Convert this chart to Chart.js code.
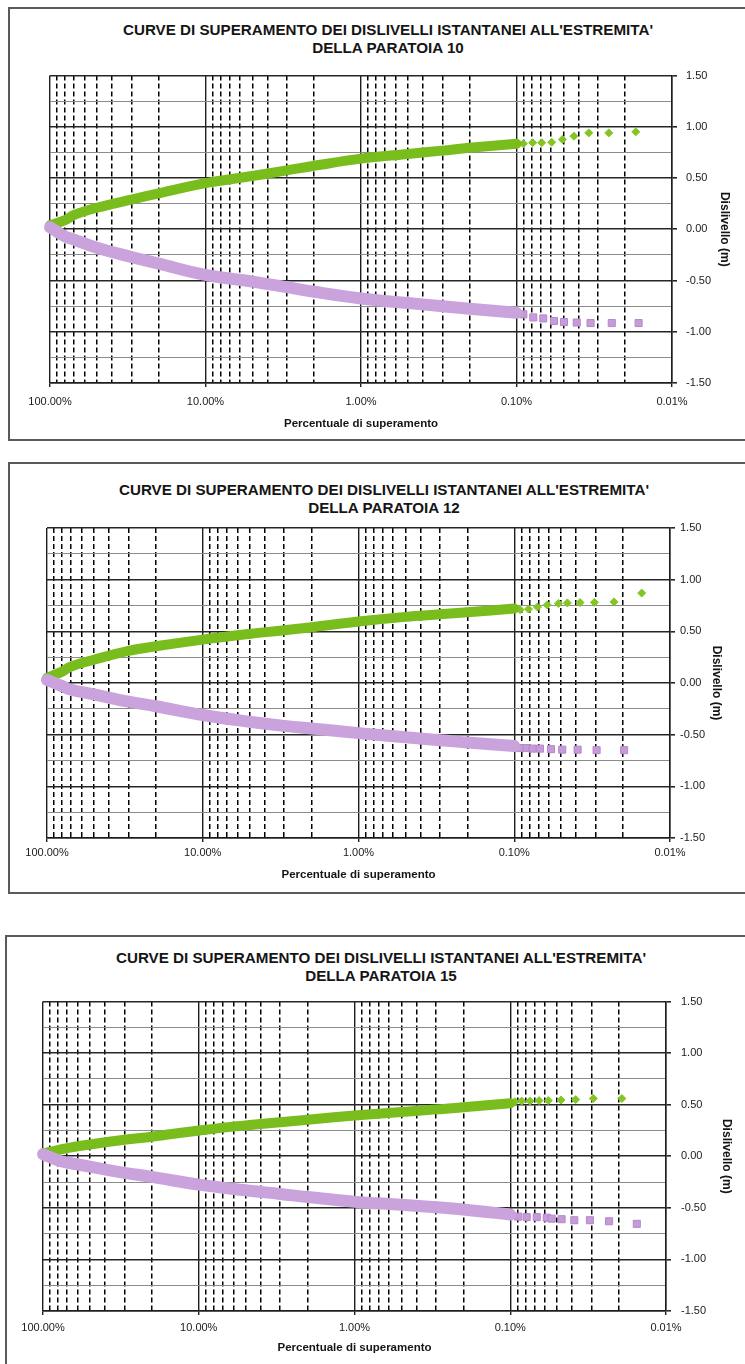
<!DOCTYPE html>
<html><head><meta charset="utf-8">
<script src="https://cdn.jsdelivr.net/npm/chart.js@4.4.1/dist/chart.umd.min.js"></script>
<style>
html,body{margin:0;padding:0;background:#fff;}
body{width:745px;height:1364px;position:relative;overflow:hidden;font-family:"Liberation Sans",Arial,sans-serif;}
.box{position:absolute;border:2px solid #5a5a5a;box-sizing:border-box;}
.ttl{position:absolute;width:640px;text-align:center;font-weight:bold;font-size:15.2px;line-height:18px;color:#151515;white-space:nowrap;}
canvas{position:absolute;left:0;}
</style></head><body>
<div class="box" style="left:8px;top:7px;width:800px;height:434px"></div>
<div class="box" style="left:8px;top:462px;width:800px;height:432px"></div>
<div class="box" style="left:5px;top:935px;width:800px;height:500px"></div>
<div class="ttl" style="left:68px;top:21px">CURVE DI SUPERAMENTO DEI DISLIVELLI ISTANTANEI ALL'ESTREMITA'<br>DELLA PARATOIA 10</div>
<div class="ttl" style="left:64px;top:481px">CURVE DI SUPERAMENTO DEI DISLIVELLI ISTANTANEI ALL'ESTREMITA'<br>DELLA PARATOIA 12</div>
<div class="ttl" style="left:61px;top:949px">CURVE DI SUPERAMENTO DEI DISLIVELLI ISTANTANEI ALL'ESTREMITA'<br>DELLA PARATOIA 15</div>
<canvas id="c1" width="745" height="380" style="top:60px"></canvas>
<canvas id="c2" width="745" height="378" style="top:515px"></canvas>
<canvas id="c3" width="745" height="379" style="top:985px"></canvas>
<script>
// ---- data (percent of exceedance on x, level difference in m on y) ----
const pctBand = [100, 80, 70, 50, 30, 20, 10, 5, 3, 2, 1, 0.5, 0.3, 0.2, 0.1];

const up10 = [0.04, 0.09, 0.14, 0.21, 0.29, 0.35, 0.45, 0.52, 0.575, 0.62, 0.69, 0.735, 0.768, 0.795, 0.835];
const lo10 = [0.02, -0.07, -0.10, -0.18, -0.27, -0.335, -0.445, -0.51, -0.565, -0.61, -0.675, -0.72, -0.75, -0.775, -0.815];
const up10TailPct = [0.0904, 0.0787, 0.0689, 0.0594, 0.0507, 0.0427, 0.0343, 0.0255, 0.0171];
const up10Tail = [0.836, 0.845, 0.845, 0.85, 0.877, 0.909, 0.941, 0.941, 0.951];
const lo10TailPct = [0.0904, 0.078, 0.0673, 0.0574, 0.0495, 0.041, 0.0334, 0.0244, 0.0164];
const lo10Tail = [-0.83, -0.86, -0.87, -0.895, -0.905, -0.91, -0.915, -0.915, -0.915];

const up12 = [0.05, 0.11, 0.16, 0.225, 0.31, 0.355, 0.42, 0.475, 0.51, 0.54, 0.595, 0.64, 0.665, 0.685, 0.72];
const lo12 = [0.03, -0.03, -0.065, -0.11, -0.18, -0.225, -0.31, -0.375, -0.415, -0.44, -0.485, -0.525, -0.555, -0.575, -0.61];
const up12TailPct = [0.0918, 0.081, 0.071, 0.0614, 0.052, 0.0456, 0.0378, 0.0306, 0.0229, 0.0152];
const up12Tail = [0.71, 0.715, 0.735, 0.755, 0.77, 0.775, 0.778, 0.78, 0.785, 0.87];
const lo12TailPct = [0.0918, 0.0832, 0.0762, 0.0684, 0.0581, 0.0492, 0.0392, 0.0296, 0.0197];
const lo12Tail = [-0.63, -0.63, -0.635, -0.635, -0.64, -0.645, -0.645, -0.65, -0.65];

const up15 = [0.03, 0.06, 0.08, 0.115, 0.16, 0.19, 0.25, 0.30, 0.33, 0.355, 0.395, 0.43, 0.455, 0.475, 0.515];
const lo15 = [0.02, -0.04, -0.06, -0.10, -0.16, -0.20, -0.275, -0.33, -0.365, -0.395, -0.44, -0.47, -0.495, -0.515, -0.565];
const up15TailPct = [0.0933, 0.0845, 0.0747, 0.0653, 0.057, 0.0472, 0.038, 0.0293, 0.0192];
const up15Tail = [0.53, 0.535, 0.535, 0.54, 0.54, 0.545, 0.55, 0.56, 0.56];
const lo15TailPct = [0.0888, 0.0784, 0.0676, 0.0583, 0.0542, 0.0468, 0.0388, 0.0308, 0.0232, 0.0154];
const lo15Tail = [-0.585, -0.59, -0.59, -0.595, -0.605, -0.61, -0.62, -0.62, -0.63, -0.655];

// axis ticks
const xDecades = [100, 10, 1, 0.1, 0.01];
const xTickLabels = ['100.00%', '10.00%', '1.00%', '0.10%', '0.01%'];
const xMinorFactors = [9, 8, 7, 6, 5, 4, 3, 2];
const yLabelValues = [1.5, 1.0, 0.5, 0.0, -0.5, -1.0, -1.5];
const xTitle = 'Percentuale di superamento';
const yTitle = 'Dislivello (m)';

// ---- styling ----
const GREEN = '#79bd1c', GREEN_PT = '#84c526';
const PINK = '#caa3dc', PINK_PT = '#c79bd9', PINK_EDGE = '#b489c9';

const xGrid = [];
xDecades.forEach((d, i) => {
  xGrid.push(d);
  if (i < xDecades.length - 1) xMinorFactors.forEach(f => xGrid.push(d / 10 * f));
});
function isDecade(v) { const l = Math.log10(v); return Math.abs(l - Math.round(l)) < 1e-6; }
function xLabel(v) {
  for (let i = 0; i < xDecades.length; i++) if (Math.abs(v - xDecades[i]) / xDecades[i] < 1e-6) return xTickLabels[i];
  return '';
}
function isHalf(v) { return yLabelValues.some(y => Math.abs(y - v) < 1e-6); }
function pts(xs, ys) { return xs.map((x, i) => ({x: x, y: ys[i]})); }

function makeChart(id, geo, up, lo, upTP, upT, loTP, loT) {
  const datasets = [
    {data: pts(pctBand, lo), showLine: true, borderColor: PINK, borderWidth: 12, pointRadius: 0,
     borderCapStyle: 'round', borderJoinStyle: 'round', tension: 0.4, clip: false},
    {data: pts(loTP, loT), showLine: false, pointStyle: 'rect', pointRadius: 5,
     backgroundColor: PINK_PT, borderColor: PINK_EDGE, borderWidth: 1, clip: false},
    {data: pts(pctBand, up), showLine: true, borderColor: GREEN, borderWidth: 10, pointRadius: 0,
     borderCapStyle: 'round', borderJoinStyle: 'round', tension: 0.4, clip: false},
    {data: pts(upTP, upT), showLine: false, pointStyle: 'rectRot', pointRadius: 4,
     backgroundColor: GREEN_PT, borderColor: GREEN_PT, borderWidth: 1, clip: false}
  ];
  new Chart(document.getElementById(id), {
    type: 'scatter',
    data: {datasets},
    options: {
      responsive: false, animation: false, events: [],
      layout: {padding: {left: geo.left, top: geo.top, right: 0, bottom: 0}},
      plugins: {legend: {display: false}, tooltip: {enabled: false}, title: {display: false}},
      scales: {
        x: {
          type: 'logarithmic', reverse: true, min: 0.01, max: 100,
          afterBuildTicks: s => { s.ticks = xGrid.map(v => ({value: v})); },
          afterFit: s => { s.height = geo.xH; },
          ticks: {autoSkip: false, maxRotation: 0, minRotation: 0, padding: geo.xPad, color: '#1a1a1a',
                  font: {family: 'Liberation Sans', size: 11}, callback: v => xLabel(v)},
          grid: {
            color: c => (c.tick && isDecade(c.tick.value)) ? '#1e1e1e' : '#000',
            lineWidth: c => (c.tick && isDecade(c.tick.value)) ? 1.4 : 1.5,
            tickLength: 4, tickBorderDash: [],
            tickColor: c => (c.tick && isDecade(c.tick.value)) ? '#1e1e1e' : 'rgba(0,0,0,0)'
          },
          border: {display: true, color: '#1e1e1e', width: 1.5,
                   dash: c => (c.tick && !isDecade(c.tick.value)) ? [5, 3] : []},
          title: {display: true, text: xTitle, color: '#151515',
                  font: {family: 'Liberation Sans', size: 11.5, weight: 'bold'},
                  padding: {top: 0, bottom: geo.xTitlePad}}
        },
        y: {
          position: 'right', min: -1.5, max: 1.5,
          afterFit: s => { s.width = geo.yW; },
          ticks: {stepSize: 0.25, autoSkip: false, padding: geo.yPad, color: '#1a1a1a',
                  font: {family: 'Liberation Sans', size: 11},
                  callback: v => isHalf(v) ? Number(v).toFixed(2) : ''},
          grid: {
            color: c => (c.tick && !isHalf(c.tick.value)) ? '#8c8c8c' : '#262626',
            lineWidth: c => (c.tick && !isHalf(c.tick.value)) ? 1 : 1.6,
            tickLength: 5, tickBorderDash: [],
            tickColor: c => (c.tick && isHalf(c.tick.value)) ? '#262626' : 'rgba(0,0,0,0)'
          },
          border: {display: true, color: '#1e1e1e', width: 1.5, dash: []},
          title: {display: true, text: yTitle, color: '#151515',
                  font: {family: 'Liberation Sans', size: 12, weight: 'bold'},
                  padding: {top: geo.yTitlePad, bottom: 0}}
        }
      }
    }
  });
}

makeChart('c1', {left: 50, top: 10, xH: 57, yW: 73, xPad: 8, xTitlePad: 9, yPad: 9, yTitlePad: 13},
  up10, lo10, up10TailPct, up10Tail, lo10TailPct, lo10Tail);
makeChart('c2', {left: 47, top: 13, xH: 55, yW: 75, xPad: 4, xTitlePad: 11, yPad: 5, yTitlePad: 21},
  up12, lo12, up12TailPct, up12Tail, lo12TailPct, lo12Tail);
makeChart('c3', {left: 43, top: 14, xH: 53, yW: 79, xPad: 6, xTitlePad: 9, yPad: 10, yTitlePad: 11},
  up15, lo15, up15TailPct, up15Tail, lo15TailPct, lo15Tail);
</script>
</body></html>
